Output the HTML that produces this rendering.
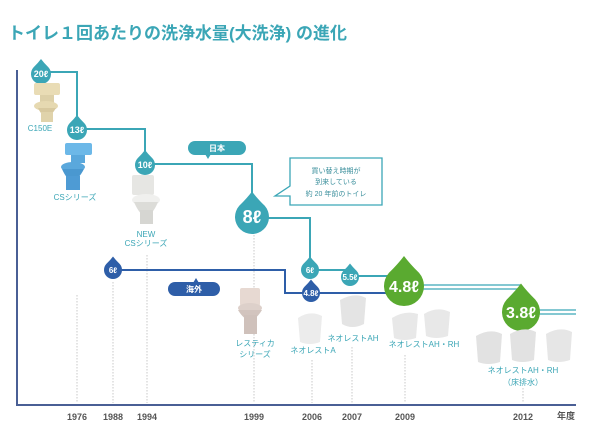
<!DOCTYPE html>
<html><head><meta charset="utf-8"><style>
html,body{margin:0;padding:0;background:#fff;}
svg{display:block;font-family:"Liberation Sans","Noto Sans CJK JP",sans-serif;}
</style></head><body>
<svg width="600" height="447" viewBox="0 0 600 447" xmlns="http://www.w3.org/2000/svg">
<defs>
<path id="d" d="M0,-1.5 Q0.3,-1.1 0.75,-0.66 A1,1 0 1 1 -0.75,-0.66 Q-0.3,-1.1 0,-1.5Z"/>
</defs>
<rect width="600" height="447" fill="#fff"/>
<text x="8" y="39" font-size="17" font-weight="bold" fill="#3ba6b6">トイレ１回あたりの洗浄水量(大洗浄) の進化</text>

<!-- axes -->
<line x1="17" y1="70" x2="17" y2="405" stroke="#4a5f95" stroke-width="2"/>
<line x1="16" y1="405" x2="576" y2="405" stroke="#4a5f95" stroke-width="2"/>
<g font-size="9" fill="#555" text-anchor="middle" font-weight="bold">
<text x="77" y="420">1976</text><text x="113" y="420">1988</text><text x="147" y="420">1994</text>
<text x="254" y="420">1999</text><text x="312" y="420">2006</text><text x="352" y="420">2007</text>
<text x="405" y="420">2009</text><text x="523" y="420">2012</text><text x="566" y="419">年度</text>
</g>
<g stroke="#bbb" stroke-width="0.8" stroke-dasharray="1.5,1.5">
<line x1="77" y1="295" x2="77" y2="403"/><line x1="113" y1="282" x2="113" y2="403"/>
<line x1="147" y1="255" x2="147" y2="403"/><line x1="254" y1="235" x2="254" y2="403"/>
<line x1="312" y1="360" x2="312" y2="403"/><line x1="352" y1="347" x2="352" y2="403"/>
<line x1="405" y1="355" x2="405" y2="403"/><line x1="523" y1="388" x2="523" y2="403"/>
</g>

<!-- teal japan line -->
<g fill="none" stroke="#3ba6b6" stroke-width="2">
<polyline points="41,72 77,72 77,125"/>
<polyline points="77,129 145,129 145,158"/>
<polyline points="145,164 252,164 252,200"/>
<polyline points="252,218 310,218 310,265"/>
<polyline points="310,270 350,270 350,276 404,276"/>
</g>
<g stroke="#3ba6b6" stroke-width="1.3" fill="none">
<line x1="404" y1="285" x2="521" y2="285"/><line x1="404" y1="289" x2="521" y2="289"/>
<line x1="521" y1="310" x2="576" y2="310"/><line x1="521" y1="314" x2="576" y2="314"/>
</g>
<!-- blue overseas line -->
<polyline points="113,270 285,270 285,293 404,293" fill="none" stroke="#2e5ea8" stroke-width="2"/>

<!-- drops -->
<g fill="#3ba6b6">
<use href="#d" transform="translate(41,74) scale(10)"/>
<use href="#d" transform="translate(77,130) scale(10)"/>
<use href="#d" transform="translate(145,165) scale(10)"/>
<use href="#d" transform="translate(252,217) scale(17)"/>
<use href="#d" transform="translate(310,270) scale(9)"/>
<use href="#d" transform="translate(350,277) scale(9)"/>
</g>
<g fill="#2e5ea8">
<use href="#d" transform="translate(113,270) scale(9)"/>
<use href="#d" transform="translate(311,293) scale(9)"/>
</g>
<g fill="#5aaa30">
<use href="#d" transform="translate(404,286) scale(20)"/>
<use href="#d" transform="translate(521,312) scale(19)"/>
</g>
<g fill="#fff" font-weight="bold" text-anchor="middle">
<text x="41" y="77" font-size="9">20ℓ</text>
<text x="77" y="133" font-size="9">13ℓ</text>
<text x="145" y="168" font-size="9">10ℓ</text>
<text x="252" y="223" font-size="18">8ℓ</text>
<text x="310" y="273" font-size="8">6ℓ</text>
<text x="350" y="280" font-size="8">5.5ℓ</text>
<text x="113" y="273" font-size="8">6ℓ</text>
<text x="311" y="296" font-size="8">4.8ℓ</text>
<text x="404" y="292" font-size="16">4.8ℓ</text>
<text x="521" y="318" font-size="16">3.8ℓ</text>
</g>

<!-- pills -->
<rect x="188" y="141" width="58" height="14" rx="7" fill="#3ba6b6"/>
<polygon points="205,154 211,154 208,159" fill="#3ba6b6"/>
<text x="217" y="151" font-size="8" fill="#fff" text-anchor="middle" font-weight="bold">日本</text>
<rect x="168" y="282" width="52" height="14" rx="7" fill="#2e5ea8"/>
<polygon points="193,283 199,283 196,278" fill="#2e5ea8"/>
<text x="194" y="292" font-size="8" fill="#fff" text-anchor="middle" font-weight="bold">海外</text>

<!-- callout -->
<path d="M290,158 H382 V205 H290 V196 L275,196 L290,186 Z" fill="#fff" stroke="#3ba6b6" stroke-width="1.3"/>
<g font-size="7" fill="#3b8f9c" text-anchor="middle">
<text x="336" y="173">買い替え時期が</text>
<text x="336" y="184">到来している</text>
<text x="336" y="196">約 20 年前のトイレ</text>
</g>

<!-- toilets -->
<g>
<rect x="34" y="83" width="26" height="12" rx="2" fill="#e9dcb5"/>
<rect x="40" y="95" width="14" height="8" fill="#ddd0a8"/>
<ellipse cx="46" cy="106" rx="12" ry="5" fill="#e6d9b1"/>
<path d="M38,108 Q46,125 56,108 Z" fill="#d8c99f"/>
<rect x="41" y="112" width="12" height="10" fill="#e0d3ab"/>
<rect x="65" y="143" width="27" height="12" rx="2" fill="#6cb8e8"/>
<rect x="71" y="155" width="14" height="8" fill="#5aa8dc"/>
<ellipse cx="73" cy="167" rx="12" ry="5" fill="#5aa8dc"/>
<path d="M62,169 Q72,192 84,169 Z" fill="#4a98d0"/>
<rect x="66" y="176" width="14" height="14" fill="#4e9bd4"/>
<rect x="132" y="175" width="22" height="20" rx="2" fill="#e6e6e3"/>
<ellipse cx="146" cy="200" rx="14" ry="6" fill="#f0f0ee"/>
<path d="M134,202 Q146,230 158,202 Z" fill="#dcdcd8"/>
<rect x="140" y="210" width="13" height="14" fill="#d6d6d2"/>
<rect x="240" y="288" width="20" height="18" rx="2" fill="#e7d9d2"/>
<ellipse cx="250" cy="308" rx="12" ry="5" fill="#ddd0ca"/>
<path d="M238,310 Q250,330 262,310 Z" fill="#d2c4be"/>
<rect x="244" y="315" width="13" height="19" fill="#cfc1bb"/>
<path d="M298,318 Q310,310 322,316 L320,342 Q310,346 300,342 Z" fill="#ececec"/>
<path d="M340,300 Q355,292 366,298 L364,324 Q352,330 342,324 Z" fill="#e4e4e4"/>
<path d="M392,318 Q405,310 418,314 L416,338 Q404,342 394,338 Z" fill="#e8e8e8"/>
<path d="M424,314 Q437,306 450,312 L448,336 Q436,340 426,336 Z" fill="#e8e8e8"/>
<path d="M476,336 Q490,328 502,334 L500,362 Q488,366 478,362 Z" fill="#e2e2e2"/>
<path d="M510,334 Q524,326 536,332 L534,360 Q522,364 512,360 Z" fill="#e2e2e2"/>
<path d="M546,334 Q560,326 572,332 L570,360 Q558,364 548,360 Z" fill="#e6e6e6"/>
</g>

<!-- labels -->
<g font-size="8" fill="#3ba6b6" text-anchor="middle">
<text x="40" y="131">C150E</text>
<text x="75" y="200">CSシリーズ</text>
<text x="146" y="237">NEW</text>
<text x="146" y="246">CSシリーズ</text>
<text x="255" y="346">レスティカ</text>
<text x="255" y="357">シリーズ</text>
<text x="313" y="353">ネオレストA</text>
<text x="353" y="341">ネオレストAH</text>
<text x="424" y="347">ネオレストAH・RH</text>
<text x="523" y="373">ネオレストAH・RH</text>
<text x="523" y="385">（床排水）</text>
</g>
</svg>
</body></html>
